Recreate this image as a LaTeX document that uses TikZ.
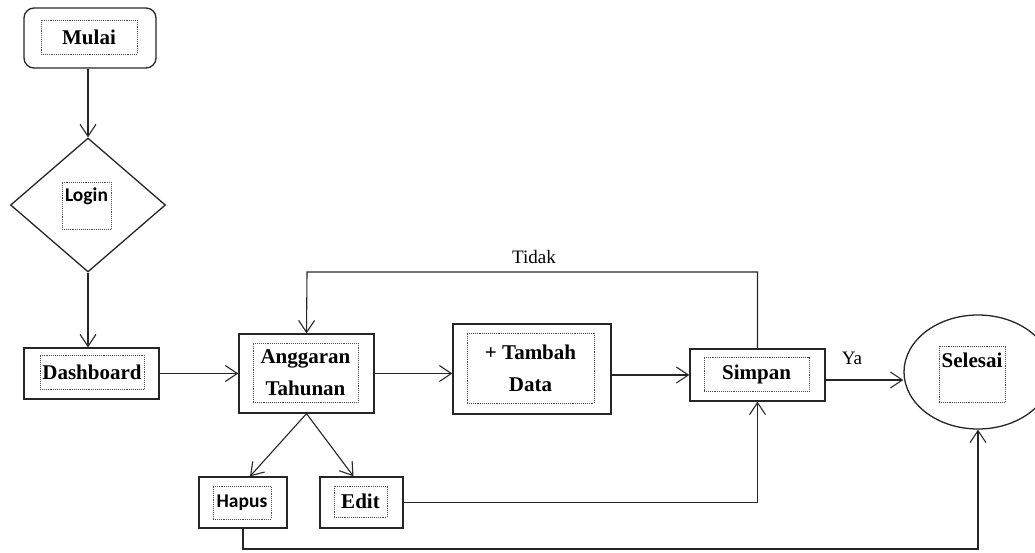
\documentclass[tikz,border=0pt]{standalone}
\usepackage{fontspec}
\setmainfont{Liberation Serif}
\newfontfamily\calfont{Carlito}
\usetikzlibrary{shapes.geometric,arrows.meta,calc}
\begin{document}
\begin{tikzpicture}[x=1pt,y=-1pt,
  box/.style={draw=black!85, line width=1.3pt, inner sep=0pt},
  dotbox/.style={draw=black!70, densely dotted, line width=0.9pt, inner sep=0pt, align=center, font=\fontsize{21}{32}\selectfont\bfseries},
  caltext/.style={font=\calfont\bfseries\fontsize{19.5}{22}\selectfont, inner sep=0pt},
  arr/.style={draw=black!85, line width=1.1pt, -{Straight Barb[length=12pt,width=16pt,line width=1.1pt]}},
  conn/.style={draw=black!85, line width=1.1pt},
  lab/.style={font=\fontsize{19}{22}\selectfont, inner sep=0pt}
]
\useasboundingbox (0,0) rectangle (1035,553);
\begin{scope}
\clip (0,0) rectangle (1035,553);
% Mulai
\node[box, rounded corners=10pt, minimum width=132, minimum height=60] (mulai) at (90,38) {};
\node[dotbox, minimum width=96, minimum height=34] (mulait) at (89,37) {Mulai};
% Login diamond
\node[box, diamond, minimum width=155, minimum height=134] (login) at (88,205) {};
\node[dotbox, minimum width=49, minimum height=47] (loginb) at (86.5,205.5) {};
\node[caltext] (logint) at (86.5,196) {Login};
% Dashboard
\node[box, minimum width=135, minimum height=51] (dash) at (91.5,373.5) {};
\node[dotbox, minimum width=104, minimum height=34] (dasht) at (92,372) {Dashboard};
% Anggaran Tahunan
\node[box, minimum width=135, minimum height=79] (ang) at (306.5,373.5) {};
\node[dotbox, minimum width=105, minimum height=59] (angt) at (305.5,372.5) {Anggaran\\Tahunan};
% Tambah Data
\node[box, minimum width=158, minimum height=90] (tam) at (532,369) {};
\node[dotbox, minimum width=127, minimum height=70] (tamt) at (530.5,368) {+ Tambah\\Data};
% Simpan
\node[box, minimum width=135, minimum height=52] (simpan) at (757.5,375) {};
\node[dotbox, minimum width=105, minimum height=34] (simpant) at (756.5,374) {Simpan};
% Hapus
\node[box, minimum width=88, minimum height=51] (hapus) at (243,502.5) {};
\node[dotbox, minimum width=58, minimum height=33] (hapusb) at (242,502.5) {};
\node[caltext] (hapust) at (242,502.5) {Hapus};
% Edit
\node[box, minimum width=83, minimum height=51] (edit) at (361.5,502.5) {};
\node[dotbox, minimum width=53, minimum height=31] (editt) at (360.5,501.5) {Edit};
% Selesai
\node[box, ellipse, minimum width=148, minimum height=114] (sel) at (978,372) {};
\node[dotbox, minimum width=66, minimum height=56] (selb) at (972,374) {};
\node[font=\fontsize{21}{32}\selectfont\bfseries, inner sep=0pt] (selt) at (972,360) {Selesai};
% coordinates
\coordinate (top) at (307,272);
\coordinate (bot) at (600,549);
% connectors
\draw[arr] (login.north |- mulai.south) -- (login.north);
\draw[arr] (login.south) -- (login.south |- dash.north);
\draw[arr] (dash.east) -- (dash.east -| ang.west);
\draw[arr] (ang.east) -- (ang.east -| tam.west);
\draw[arr] (simpan.west -| tam.east) -- (simpan.west);
\draw[arr] (simpan.north) |- (top) -- (ang.north);
\draw[arr] ($(simpan.east)+(0,5)$) -- ($(sel.west)+(0,8)$);
\draw[arr] (ang.south) -- ($(hapus.north)+(7,0)$);
\draw[arr] (ang.south) -- ($(edit.north)+(-8,0)$);
\draw[arr] (edit.east) -| (simpan.south);
\draw[arr] (hapus.south) |- (bot) -| (sel.south);
% labels
\node[lab] (tidak) at (534,257) {Tidak};
\node[lab] (ya) at (852,358) {Ya};
\end{scope}
\end{tikzpicture}
\end{document}
